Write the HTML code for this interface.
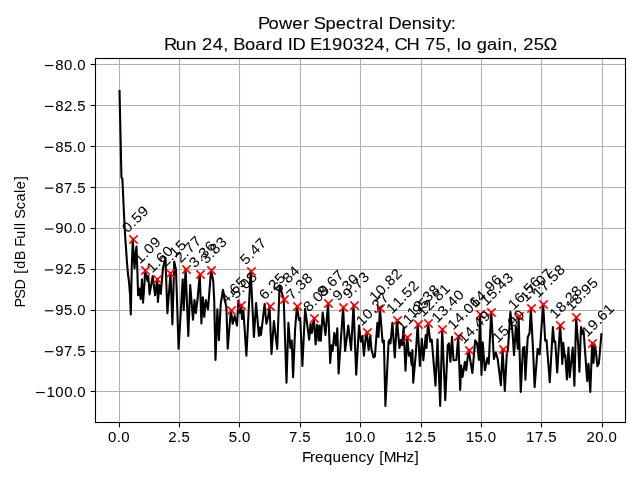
<!DOCTYPE html>
<html lang="en"><head><meta charset="utf-8"><title>Power Spectral Density</title>
<style>html,body{margin:0;padding:0;background:#fff;overflow:hidden}svg{display:block}text{font-family:"Liberation Sans",sans-serif;white-space:pre}</style></head>
<body>
<svg width="640" height="480" viewBox="0 0 640 480">
<rect x="0" y="0" width="640" height="480" fill="#fff"/>
<g stroke="#b0b0b0" stroke-width="1.11" fill="none">
<path d="M119.5 58.5V422.5"/><path d="M179.5 58.5V422.5"/><path d="M239.5 58.5V422.5"/><path d="M300.5 58.5V422.5"/><path d="M360.5 58.5V422.5"/><path d="M421.5 58.5V422.5"/><path d="M481.5 58.5V422.5"/><path d="M541.5 58.5V422.5"/><path d="M602.5 58.5V422.5"/>
<path d="M95.5 64.5H625.5"/><path d="M95.5 105.5H625.5"/><path d="M95.5 146.5H625.5"/><path d="M95.5 187.5H625.5"/><path d="M95.5 228.5H625.5"/><path d="M95.5 269.5H625.5"/><path d="M95.5 310.5H625.5"/><path d="M95.5 351.5H625.5"/><path d="M95.5 391.5H625.5"/>
</g>
<g stroke="#000" stroke-width="1.11" fill="none">
<path d="M119.5 422.5v4.86"/><path d="M179.5 422.5v4.86"/><path d="M239.5 422.5v4.86"/><path d="M300.5 422.5v4.86"/><path d="M360.5 422.5v4.86"/><path d="M421.5 422.5v4.86"/><path d="M481.5 422.5v4.86"/><path d="M541.5 422.5v4.86"/><path d="M602.5 422.5v4.86"/>
<path d="M95.5 64.5h-4.86"/><path d="M95.5 105.5h-4.86"/><path d="M95.5 146.5h-4.86"/><path d="M95.5 187.5h-4.86"/><path d="M95.5 228.5h-4.86"/><path d="M95.5 269.5h-4.86"/><path d="M95.5 310.5h-4.86"/><path d="M95.5 351.5h-4.86"/><path d="M95.5 391.5h-4.86"/>
</g>
<clipPath id="c"><rect x="95.45" y="58.45" width="530.0" height="363.1"/></clipPath>
<polyline clip-path="url(#c)" points="119.54,91.00 120.49,134.20 121.43,177.30 122.37,178.60 123.32,199.50 124.26,219.50 125.20,237.00 126.15,250.00 127.09,264.00 128.03,274.50 128.98,281.50 129.92,293.00 130.80,314.50 131.80,266.00 132.77,239.00 133.69,256.00 134.55,268.25 135.60,253.00 136.50,246.50 137.40,272.00 138.10,295.20 139.40,288.50 140.70,299.00 142.00,279.40 143.05,302.70 144.60,282.00 145.03,270.00 147.50,281.00 148.30,276.00 149.60,294.40 152.70,276.00 155.10,295.30 157.29,279.00 157.90,301.90 159.40,285.00 160.75,293.80 163.00,268.00 165.40,257.80 167.40,313.10 170.50,273.00 172.40,324.40 174.25,261.60 176.00,270.00 178.60,348.75 182.70,279.40 183.70,310.30 185.59,269.00 188.30,336.00 190.20,285.00 193.00,319.70 194.50,300.00 195.80,313.00 197.70,298.00 199.74,274.00 201.40,323.40 202.75,297.20 204.25,316.90 205.75,300.00 208.00,309.40 211.06,270.00 213.25,281.25 214.20,300.00 215.50,360.00 217.40,309.40 218.90,340.30 220.75,303.75 223.00,289.70 224.90,300.00 226.40,307.50 227.70,348.75 230.87,310.00 232.70,323.75 234.60,316.00 237.00,325.60 238.40,300.50 239.90,313.00 241.25,305.00 242.00,319.00 243.40,310.60 244.90,333.00 246.40,355.60 250.69,271.00 253.90,336.90 256.10,303.00 258.90,335.90 260.25,327.50 261.00,335.00 264.60,304.00 266.40,323.75 268.30,316.00 269.55,306.00 271.50,354.00 273.90,321.00 277.20,349.00 279.60,285.30 283.70,299.00 286.50,382.80 288.40,322.80 290.40,348.00 291.75,340.60 293.10,377.20 295.10,329.40 296.91,306.00 298.90,320.00 300.20,318.00 302.40,366.00 305.10,308.75 309.20,339.70 310.50,323.75 311.80,333.00 313.89,318.00 315.60,344.40 317.10,324.70 318.60,340.60 319.50,325.60 320.80,340.60 322.70,312.50 325.50,335.00 328.04,303.00 330.20,363.00 331.50,345.30 332.60,351.00 334.30,333.00 335.80,345.30 337.30,328.40 338.60,373.40 343.13,307.00 345.10,351.00 348.30,325.60 351.10,350.00 353.51,305.00 356.20,374.80 359.00,325.60 360.90,341.60 362.40,336.00 363.90,355.60 365.75,337.00 366.72,332.00 368.60,350.00 370.25,335.00 371.40,349.00 373.60,357.50 374.90,356.50 377.40,322.80 378.50,337.00 379.93,308.00 382.60,342.50 383.90,340.60 385.40,405.90 388.60,341.60 389.60,339.70 390.50,343.40 392.40,322.80 394.80,357.50 396.91,320.00 399.50,348.00 400.80,340.00 402.10,345.30 403.60,327.50 405.50,370.60 407.28,337.00 408.90,355.60 410.20,352.80 411.70,365.00 412.40,350.00 413.20,382.80 415.80,353.75 417.66,324.00 419.90,366.00 421.80,338.75 423.30,360.30 425.75,335.00 426.50,348.00 428.04,323.00 430.25,341.60 431.75,339.70 435.50,385.60 437.50,339.30 440.20,405.90 442.19,329.00 445.25,400.25 447.70,345.30 449.00,343.40 450.40,361.60 452.05,336.80 453.50,360.20 456.40,360.00 458.22,336.00 460.20,390.00 461.10,365.60 462.60,376.90 464.90,361.90 466.20,370.30 468.60,350.00 472.40,373.00 475.20,340.30 477.00,343.00 478.90,360.00 479.92,314.00 481.50,375.00 482.70,342.20 484.90,370.30 487.40,358.00 488.70,363.75 491.24,312.00 493.90,359.00 495.80,352.50 497.70,359.00 500.90,385.30 502.56,349.00 504.80,391.00 506.70,355.30 508.00,348.75 510.40,311.80 512.70,334.70 514.00,355.30 515.90,326.25 517.75,348.75 518.60,316.00 520.75,391.90 523.00,347.80 524.50,346.90 525.40,379.70 527.70,337.50 529.60,332.80 530.86,308.00 533.30,355.30 534.60,387.20 537.60,348.75 539.60,354.50 543.13,304.00 545.20,340.80 546.50,340.00 549.75,382.20 552.90,327.00 554.10,342.00 555.20,341.25 557.20,372.40 560.11,325.00 561.40,345.00 562.30,363.90 563.30,342.80 564.60,356.90 565.30,355.30 566.90,379.50 568.50,347.50 569.70,377.20 572.70,347.50 574.40,385.80 576.14,317.00 578.30,346.00 579.40,371.70 581.00,327.00 582.50,334.00 583.60,331.00 587.20,381.00 588.50,363.90 590.30,392.00 592.18,343.00 593.50,363.00 594.60,344.40 595.80,350.60 597.40,366.25 598.90,363.00 601.40,334.20" fill="none" stroke="#000" stroke-width="2.08" stroke-linejoin="round" stroke-linecap="square"/>
<g stroke="#f00" stroke-width="1.55" fill="none">
<path d="M129.33 235.33L137.67 243.67M129.33 243.67L137.67 235.33"/><path d="M141.33 266.33L149.67 274.67M141.33 274.67L149.67 266.33"/><path d="M153.33 275.33L161.67 283.67M153.33 283.67L161.67 275.33"/><path d="M166.33 269.33L174.67 277.67M166.33 277.67L174.67 269.33"/><path d="M182.33 265.33L190.67 273.67M182.33 273.67L190.67 265.33"/><path d="M196.33 270.33L204.67 278.67M196.33 278.67L204.67 270.33"/><path d="M207.33 266.33L215.67 274.67M207.33 274.67L215.67 266.33"/><path d="M227.33 306.33L235.67 314.67M227.33 314.67L235.67 306.33"/><path d="M237.33 301.33L245.67 309.67M237.33 309.67L245.67 301.33"/><path d="M247.33 267.33L255.67 275.67M247.33 275.67L255.67 267.33"/><path d="M266.33 302.33L274.67 310.67M266.33 310.67L274.67 302.33"/><path d="M280.33 295.33L288.67 303.67M280.33 303.67L288.67 295.33"/><path d="M293.33 302.33L301.67 310.67M293.33 310.67L301.67 302.33"/><path d="M310.33 314.33L318.67 322.67M310.33 322.67L318.67 314.33"/><path d="M324.33 299.33L332.67 307.67M324.33 307.67L332.67 299.33"/><path d="M339.33 303.33L347.67 311.67M339.33 311.67L347.67 303.33"/><path d="M350.33 301.33L358.67 309.67M350.33 309.67L358.67 301.33"/><path d="M363.33 328.33L371.67 336.67M363.33 336.67L371.67 328.33"/><path d="M376.33 304.33L384.67 312.67M376.33 312.67L384.67 304.33"/><path d="M393.33 316.33L401.67 324.67M393.33 324.67L401.67 316.33"/><path d="M403.33 333.33L411.67 341.67M403.33 341.67L411.67 333.33"/><path d="M414.33 320.33L422.67 328.67M414.33 328.67L422.67 320.33"/><path d="M424.33 319.33L432.67 327.67M424.33 327.67L432.67 319.33"/><path d="M438.33 325.33L446.67 333.67M438.33 333.67L446.67 325.33"/><path d="M454.33 332.33L462.67 340.67M454.33 340.67L462.67 332.33"/><path d="M465.33 346.33L473.67 354.67M465.33 354.67L473.67 346.33"/><path d="M476.33 310.33L484.67 318.67M476.33 318.67L484.67 310.33"/><path d="M487.33 308.33L495.67 316.67M487.33 316.67L495.67 308.33"/><path d="M499.33 345.33L507.67 353.67M499.33 353.67L507.67 345.33"/><path d="M515.33 312.33L523.67 320.67M515.33 320.67L523.67 312.33"/><path d="M527.33 304.33L535.67 312.67M527.33 312.67L535.67 304.33"/><path d="M539.33 300.33L547.67 308.67M539.33 308.67L547.67 300.33"/><path d="M556.33 321.33L564.67 329.67M556.33 329.67L564.67 321.33"/><path d="M572.33 313.33L580.67 321.67M572.33 321.67L580.67 313.33"/><path d="M588.33 339.33L596.67 347.67M588.33 347.67L596.67 339.33"/>
</g>
<rect x="95.5" y="58.5" width="530.0" height="364.0" fill="none" stroke="#000" stroke-width="1.11"/>
<g opacity="0.999" font-family="'Liberation Sans', sans-serif" fill="#000" stroke="#000" stroke-linejoin="round">
<text transform="translate(259.20 29.32) scale(1.06 1)" x="-1.07 8.83 18.60 31.28 41.27 47.47 51.56 62.48 72.28 81.90 91.22 97.04 103.13 113.02 117.20 121.87 134.18 143.97 153.52 162.20 166.97 172.75 180.79" font-size="17.33" stroke-width="0.1">Power Spectral Density:</text>
<text transform="translate(164.76 50.12) scale(1.06 1)" x="-0.83 10.33 20.27 30.15 35.21 45.19 55.09 60.08 64.57 75.71 85.31 95.28 101.31 111.20 116.00 120.49 132.89 136.95 147.86 157.84 167.82 177.80 187.77 197.75 207.65 212.64 216.75 228.12 240.37 245.43 255.41 265.31 270.30 275.45 279.53 289.24 294.29 304.07 313.96 318.20 328.09 333.07 338.13 348.11 357.43" font-size="17.33" stroke-width="0.1">Run 24, Board ID E190324, CH 75, lo gain, 25Ω</text>
<text transform="translate(302.61 461.83) scale(1.06 1)" x="-0.63 6.88 11.76 19.94 28.24 36.42 44.59 52.74 60.21 67.77 72.40 76.61 87.97 97.93 105.51" font-size="14.44" stroke-width="0.05">Frequency [MHz]</text>
<text transform="translate(24.55 306.81) rotate(-90) scale(1.0 1)" x="-0.61 7.98 17.33 28.07 32.98 38.09 46.45 56.22 60.02 68.05 76.77 80.63 84.36 88.17 97.59 105.25 113.83 117.63 126.60" font-size="14.44" stroke-width="0">PSD [dB Full Scale]</text>
<text transform="translate(107.68 442.27) scale(1.06 1)" x="0.24 8.45 12.73" font-size="14.14" stroke-width="0.05">0.0</text>
<text transform="translate(168.05 442.27) scale(1.06 1)" x="0.24 8.45 12.73" font-size="14.14" stroke-width="0.05">2.5</text>
<text transform="translate(228.43 442.27) scale(1.06 1)" x="0.24 8.45 12.73" font-size="14.14" stroke-width="0.05">5.0</text>
<text transform="translate(288.80 442.27) scale(1.06 1)" x="0.24 8.45 12.73" font-size="14.14" stroke-width="0.05">7.5</text>
<text transform="translate(344.74 442.27) scale(1.06 1)" x="0.24 8.56 16.77 21.05" font-size="14.14" stroke-width="0.05">10.0</text>
<text transform="translate(405.11 442.27) scale(1.06 1)" x="0.24 8.56 16.77 21.05" font-size="14.14" stroke-width="0.05">12.5</text>
<text transform="translate(465.49 442.27) scale(1.06 1)" x="0.24 8.56 16.77 21.05" font-size="14.14" stroke-width="0.05">15.0</text>
<text transform="translate(525.86 442.27) scale(1.06 1)" x="0.24 8.56 16.77 21.05" font-size="14.14" stroke-width="0.05">17.5</text>
<text transform="translate(586.30 442.27) scale(1.06 1)" x="0.24 8.56 16.77 21.05" font-size="14.14" stroke-width="0.05">20.0</text>
<rect x="36.07" y="391.96" width="8.69" height="1.16" stroke="none"/>
<text transform="translate(34.60 396.90) scale(1.06 1)" x="11.20 19.53 27.86 36.07 40.35" font-size="14.14" stroke-width="0.05">100.0</text>
<rect x="44.82" y="351.09" width="8.69" height="1.16" stroke="none"/>
<text transform="translate(43.35 356.02) scale(1.06 1)" x="11.20 19.53 27.74 32.02" font-size="14.14" stroke-width="0.05">97.5</text>
<rect x="44.82" y="310.21" width="8.69" height="1.16" stroke="none"/>
<text transform="translate(43.35 315.15) scale(1.06 1)" x="11.20 19.53 27.74 32.02" font-size="14.14" stroke-width="0.05">95.0</text>
<rect x="44.82" y="269.34" width="8.69" height="1.16" stroke="none"/>
<text transform="translate(43.35 274.27) scale(1.06 1)" x="11.20 19.53 27.74 32.02" font-size="14.14" stroke-width="0.05">92.5</text>
<rect x="44.82" y="228.46" width="8.69" height="1.16" stroke="none"/>
<text transform="translate(43.35 233.40) scale(1.06 1)" x="11.20 19.53 27.74 32.02" font-size="14.14" stroke-width="0.05">90.0</text>
<rect x="44.82" y="187.59" width="8.69" height="1.16" stroke="none"/>
<text transform="translate(43.35 192.52) scale(1.06 1)" x="11.20 19.53 27.74 32.02" font-size="14.14" stroke-width="0.05">87.5</text>
<rect x="44.82" y="146.71" width="8.69" height="1.16" stroke="none"/>
<text transform="translate(43.35 151.65) scale(1.06 1)" x="11.20 19.53 27.74 32.02" font-size="14.14" stroke-width="0.05">85.0</text>
<rect x="44.82" y="105.84" width="8.69" height="1.16" stroke="none"/>
<text transform="translate(43.35 110.77) scale(1.06 1)" x="11.20 19.53 27.74 32.02" font-size="14.14" stroke-width="0.05">82.5</text>
<rect x="44.82" y="64.96" width="8.69" height="1.16" stroke="none"/>
<text transform="translate(43.35 69.90) scale(1.06 1)" x="11.20 19.53 27.74 32.02" font-size="14.14" stroke-width="0.05">80.0</text>
<text transform="translate(127.67 233.60) rotate(-45) scale(1.06 1)" x="0.24 8.45 12.73 21.05" font-size="14.14" stroke-width="0.05">0.59</text>
<text transform="translate(139.93 264.60) rotate(-45) scale(1.06 1)" x="0.24 8.45 12.73 21.05" font-size="14.14" stroke-width="0.05">1.09</text>
<text transform="translate(152.20 273.60) rotate(-45) scale(1.06 1)" x="0.24 8.45 12.73 21.05" font-size="14.14" stroke-width="0.05">1.60</text>
<text transform="translate(165.40 267.60) rotate(-45) scale(1.06 1)" x="0.24 8.45 12.73 21.05" font-size="14.14" stroke-width="0.05">2.15</text>
<text transform="translate(180.50 263.60) rotate(-45) scale(1.06 1)" x="0.24 8.45 12.73 21.05" font-size="14.14" stroke-width="0.05">2.77</text>
<text transform="translate(194.65 268.60) rotate(-45) scale(1.06 1)" x="0.24 8.45 12.73 21.05" font-size="14.14" stroke-width="0.05">3.36</text>
<text transform="translate(205.97 264.60) rotate(-45) scale(1.06 1)" x="0.24 8.45 12.73 21.05" font-size="14.14" stroke-width="0.05">3.83</text>
<text transform="translate(225.78 304.60) rotate(-45) scale(1.06 1)" x="0.24 8.45 12.73 21.05" font-size="14.14" stroke-width="0.05">4.65</text>
<text transform="translate(236.15 299.60) rotate(-45) scale(1.06 1)" x="0.24 8.45 12.73 21.05" font-size="14.14" stroke-width="0.05">5.08</text>
<text transform="translate(245.59 265.60) rotate(-45) scale(1.06 1)" x="0.24 8.45 12.73 21.05" font-size="14.14" stroke-width="0.05">5.47</text>
<text transform="translate(264.46 300.60) rotate(-45) scale(1.06 1)" x="0.24 8.45 12.73 21.05" font-size="14.14" stroke-width="0.05">6.25</text>
<text transform="translate(278.61 293.60) rotate(-45) scale(1.06 1)" x="0.24 8.45 12.73 21.05" font-size="14.14" stroke-width="0.05">6.84</text>
<text transform="translate(291.81 300.60) rotate(-45) scale(1.06 1)" x="0.24 8.45 12.73 21.05" font-size="14.14" stroke-width="0.05">7.38</text>
<text transform="translate(308.79 312.60) rotate(-45) scale(1.06 1)" x="0.24 8.45 12.73 21.05" font-size="14.14" stroke-width="0.05">8.09</text>
<text transform="translate(322.94 297.60) rotate(-45) scale(1.06 1)" x="0.24 8.45 12.73 21.05" font-size="14.14" stroke-width="0.05">8.67</text>
<text transform="translate(338.04 301.60) rotate(-45) scale(1.06 1)" x="0.24 8.45 12.73 21.05" font-size="14.14" stroke-width="0.05">9.30</text>
<text transform="translate(348.41 299.60) rotate(-45) scale(1.06 1)" x="0.24 8.45 12.73 21.05" font-size="14.14" stroke-width="0.05">9.73</text>
<text transform="translate(361.62 326.60) rotate(-45) scale(1.06 1)" x="0.24 8.56 16.77 21.05 29.38" font-size="14.14" stroke-width="0.05">10.27</text>
<text transform="translate(374.83 302.60) rotate(-45) scale(1.06 1)" x="0.24 8.56 16.77 21.05 29.38" font-size="14.14" stroke-width="0.05">10.82</text>
<text transform="translate(391.81 314.60) rotate(-45) scale(1.06 1)" x="0.24 8.56 16.77 21.05 29.38" font-size="14.14" stroke-width="0.05">11.52</text>
<text transform="translate(402.19 331.60) rotate(-45) scale(1.06 1)" x="0.24 8.56 16.77 21.05 29.38" font-size="14.14" stroke-width="0.05">11.95</text>
<text transform="translate(412.56 318.60) rotate(-45) scale(1.06 1)" x="0.24 8.56 16.77 21.05 29.38" font-size="14.14" stroke-width="0.05">12.38</text>
<text transform="translate(422.94 317.60) rotate(-45) scale(1.06 1)" x="0.24 8.56 16.77 21.05 29.38" font-size="14.14" stroke-width="0.05">12.81</text>
<text transform="translate(437.09 323.60) rotate(-45) scale(1.06 1)" x="0.24 8.56 16.77 21.05 29.38" font-size="14.14" stroke-width="0.05">13.40</text>
<text transform="translate(453.13 330.60) rotate(-45) scale(1.06 1)" x="0.24 8.56 16.77 21.05 29.38" font-size="14.14" stroke-width="0.05">14.06</text>
<text transform="translate(463.50 344.60) rotate(-45) scale(1.06 1)" x="0.24 8.56 16.77 21.05 29.38" font-size="14.14" stroke-width="0.05">14.49</text>
<text transform="translate(474.82 308.60) rotate(-45) scale(1.06 1)" x="0.24 8.56 16.77 21.05 29.38" font-size="14.14" stroke-width="0.05">14.96</text>
<text transform="translate(486.14 306.60) rotate(-45) scale(1.06 1)" x="0.24 8.56 16.77 21.05 29.38" font-size="14.14" stroke-width="0.05">15.43</text>
<text transform="translate(497.47 343.60) rotate(-45) scale(1.06 1)" x="0.24 8.56 16.77 21.05 29.38" font-size="14.14" stroke-width="0.05">15.90</text>
<text transform="translate(513.50 310.60) rotate(-45) scale(1.06 1)" x="0.24 8.56 16.77 21.05 29.38" font-size="14.14" stroke-width="0.05">16.56</text>
<text transform="translate(525.77 302.60) rotate(-45) scale(1.06 1)" x="0.24 8.56 16.77 21.05 29.38" font-size="14.14" stroke-width="0.05">17.07</text>
<text transform="translate(538.03 298.60) rotate(-45) scale(1.06 1)" x="0.24 8.56 16.77 21.05 29.38" font-size="14.14" stroke-width="0.05">17.58</text>
<text transform="translate(555.01 319.60) rotate(-45) scale(1.06 1)" x="0.24 8.56 16.77 21.05 29.38" font-size="14.14" stroke-width="0.05">18.28</text>
<text transform="translate(571.05 311.60) rotate(-45) scale(1.06 1)" x="0.24 8.56 16.77 21.05 29.38" font-size="14.14" stroke-width="0.05">18.95</text>
<text transform="translate(587.08 337.60) rotate(-45) scale(1.06 1)" x="0.24 8.56 16.77 21.05 29.38" font-size="14.14" stroke-width="0.05">19.61</text>
</g>
</svg>
</body></html>
